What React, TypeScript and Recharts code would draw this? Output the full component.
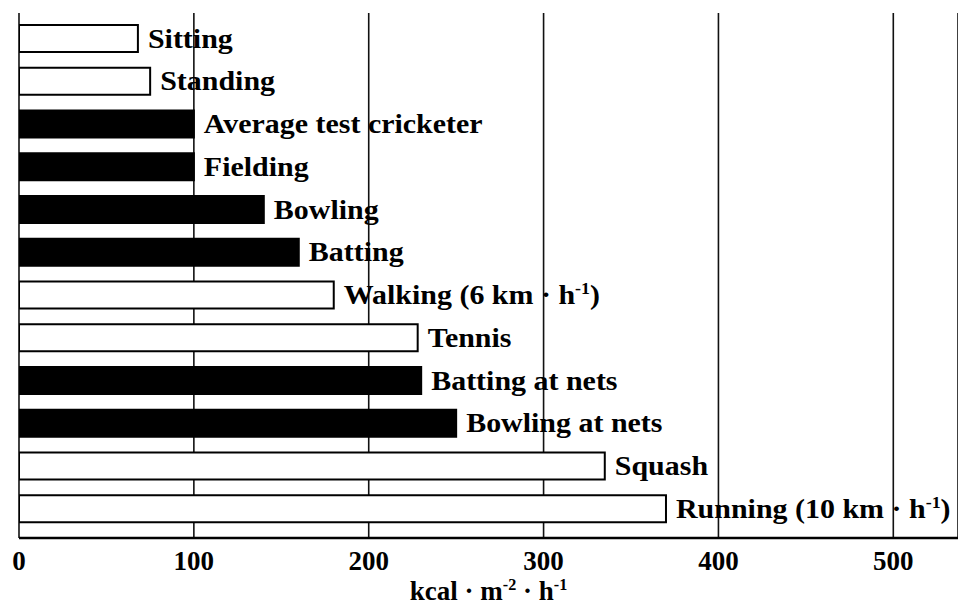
import React from "react";
import { BarChart, Bar, XAxis, YAxis, CartesianGrid, Cell, LabelList } from "recharts";

const activities = [
  "Sitting",
  "Standing",
  "Average test cricketer",
  "Fielding",
  "Bowling",
  "Batting",
  "Walking (6 km · h⁻¹)",
  "Tennis",
  "Batting at nets",
  "Bowling at nets",
  "Squash",
  "Running (10 km · h⁻¹)",
];
const energyCost = [68, 75, 100, 100, 140, 160, 180, 228, 230, 250, 335, 370];
const isCricket = [false, false, true, true, true, true, false, false, true, true, false, false];
const xTicks = [0, 100, 200, 300, 400, 500];
const axisTitle = "kcal · m⁻² · h⁻¹";

const data = activities.map((name, i) => ({ name, value: energyCost[i], cricket: isCricket[i] }));

const FONT = "'Liberation Serif', 'Times New Roman', serif";
const SUP: Record<string, string> = { "⁻": "-", "¹": "1", "²": "2" };

// text with superscript bits drawn as raised tspans
const RichText = ({ x, y, text, size, anchor = "start", stretch = 1 }: any) => {
  const parts = text.split(/([⁻¹²]+)/).filter((p: string) => p !== "");
  const rise = size * 0.36;
  let raised = false;
  return (
    <text
      x={0}
      y={0}
      transform={`translate(${x},${y}) scale(${stretch},1)`}
      textAnchor={anchor}
      fontFamily={FONT}
      fontWeight="bold"
      fontSize={size}
      fill="#000"
    >
      {parts.map((p: string, i: number) => {
        const sup = /^[⁻¹²]+$/.test(p);
        let dy = 0;
        if (sup && !raised) { dy = -rise; raised = true; }
        else if (!sup && raised) { dy = rise; raised = false; }
        return (
          <tspan key={i} dy={dy} fontSize={sup ? size * 0.6 : size}>
            {sup ? p.split("").map((c) => SUP[c]).join("") : p}
          </tspan>
        );
      })}
    </text>
  );
};

const BarLabel = ({ x, y, width, height, value }: any) => (
  <RichText x={x + width + 10} y={y + height / 2 + 9} text={String(value)} size={28} stretch={1.07} />
);

const XTick = ({ x, y, payload }: any) => (
  <text x={x} y={y + 30} textAnchor="middle" fontFamily={FONT} fontWeight="bold" fontSize={27} fill="#000">
    {payload.value}
  </text>
);

const AxisTitle = ({ viewBox }: any) => (
  <RichText x={viewBox.x + viewBox.width / 2} y={viewBox.y + 62} text={axisTitle} size={27} anchor="middle" />
);

export default function App() {
  return (
    <div style={{ width: 958, height: 607, background: "#fff" }}>
      <style>{`body{margin:0}`}</style>
      <BarChart
        width={958}
        height={607}
        data={data}
        layout="vertical"
        margin={{ top: 13, right: 0, left: 19, bottom: 0 }}
        barSize={27}
      >
        <CartesianGrid horizontal={false} stroke="#111" strokeWidth={1.6} />
        <XAxis
          type="number"
          domain={[0, 537]}
          ticks={xTicks}
          allowDataOverflow
          height={69}
          tickSize={0}
          tickLine={false}
          axisLine={{ stroke: "#000", strokeWidth: 2.5 }}
          tick={<XTick />}
          label={<AxisTitle />}
        />
        <XAxis
          xAxisId="top"
          orientation="top"
          type="number"
          domain={[0, 537]}
          height={0}
          tick={false}
          tickLine={false}
          axisLine={{ stroke: "#000", strokeWidth: 2.5 }}
        />
        <YAxis
          type="category"
          dataKey="name"
          width={0}
          tick={false}
          tickLine={false}
          axisLine={{ stroke: "#000", strokeWidth: 2 }}
          padding={{ top: 4, bottom: 8 }}
        />
        <Bar dataKey="value" stroke="#000" strokeWidth={2} isAnimationActive={false}>
          {data.map((d, i) => (
            <Cell key={i} fill={d.cricket ? "#000" : "#fff"} />
          ))}
          <LabelList dataKey="name" content={<BarLabel />} />
        </Bar>
      </BarChart>
    </div>
  );
}
